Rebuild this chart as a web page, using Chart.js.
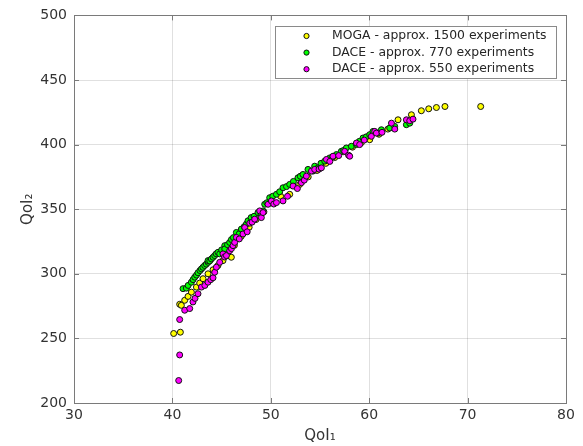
<!DOCTYPE html>
<html>
<head>
<meta charset="utf-8">
<script src="https://cdn.jsdelivr.net/npm/chart.js@4/dist/chart.umd.min.js"></script>
<style>
  body { margin: 0; background: #fff; }
  #wrap { width: 583px; height: 446px; }
</style>
</head>
<body>
<div id="wrap"><canvas id="paretoChart" width="583" height="446"></canvas></div>
<script>
// series labels
const seriesLabels = [
    'MOGA - approx. 1500 experiments',
    'DACE - approx. 770 experiments',
    'DACE - approx. 550 experiments'
];

// MOGA front (yellow)
const mogaX = [40.13, 40.81, 40.74, 40.91, 41.25, 41.59, 41.93, 42.44, 42.77, 43.11,
    43.62, 44.13, 44.63, 45.14, 45.65, 45.99, 46.3, 47.0, 47.8, 48.5,
    49.3, 50.2, 51.0, 51.92, 52.94, 53.8, 54.7, 55.6, 56.5, 57.4,
    58.3, 59.2, 60.05, 61.0, 61.9, 62.93, 64.29, 65.30, 66.05, 66.83,
    67.70, 71.33];
const mogaY = [253.8, 254.8, 276.4, 275.6, 279.5, 282.5, 285.8, 289.7, 292.8, 296.2,
    300.0, 303.1, 306.4, 310.2, 314.1, 312.8, 322, 329, 336, 342,
    348, 355, 360, 361.5, 369.2, 375, 380, 385.5, 390, 394.5,
    398, 401.5, 403.8, 408, 412, 419.2, 423.1, 426.2, 427.7, 428.7,
    429.5, 429.5];

// DACE, 770 experiments (green)
const dace770X = [41.08, 41.42, 41.6, 41.93, 42.1, 42.27, 42.45, 42.60, 42.8, 42.95,
    43.1, 43.28, 43.45, 43.62, 43.62, 43.8, 43.96, 44.13, 44.30, 44.45,
    44.63, 44.81, 45.0, 45.32, 45.32, 45.6, 45.82, 46.0, 46.2, 46.50,
    46.8, 47.01, 47.3, 47.52, 47.68, 48.0, 48.3, 48.70, 49.0, 49.21,
    49.38, 49.6, 49.89, 50.2, 50.57, 50.9, 51.24, 51.6, 51.92, 52.3,
    52.76, 53.0, 53.27, 53.78, 54.29, 54.46, 54.80, 55.1, 55.48, 55.99,
    56.3, 56.67, 57.17, 57.4, 57.68, 58.19, 58.70, 59.0, 59.37, 59.7,
    60.05, 60.39, 60.89, 61.24, 62.08, 62.59, 63.78, 64.12];
const dace770Y = [288.5, 288.9, 291, 293.5, 295.5, 297.4, 299, 300.8, 302.5, 303.8,
    305, 306.4, 307.5, 308.9, 310.2, 310, 311.5, 312.8, 314.1, 315.5,
    316.6, 315.4, 318.5, 321.8, 319.2, 322.5, 324.3, 326.5, 328, 332.0,
    331, 334.6, 336.5, 338.5, 341.0, 343.5, 344.5, 347.4, 346.5, 348.7,
    353.8, 355, 358.9, 360, 361.5, 363.5, 366.6, 367.5, 369.2, 371.5,
    374.3, 375.5, 376.9, 380.8, 379.5, 383.3, 382, 385.5, 387.2, 389.7,
    390.5, 392.3, 394.8, 395.5, 397.4, 398.7, 400, 402.5, 405.1, 406,
    407.7, 410.2, 408.9, 411.5, 412.8, 414.1, 415.4, 416.6];

// DACE, 550 experiments (magenta)
const dace550X = [40.64, 40.74, 40.74, 41.25, 41.76, 42.09, 42.3, 42.60, 42.95, 43.3,
    43.62, 43.9, 44.13, 44.30, 44.47, 44.81, 45.14, 45.3, 45.49, 45.82,
    46.0, 46.16, 46.33, 46.50, 46.8, 47.17, 47.35, 47.6, 47.86, 48.1,
    48.36, 48.87, 49.04, 49.21, 49.72, 50.06, 50.3, 50.57, 51.24, 51.7,
    52.26, 52.7, 53.11, 53.4, 53.62, 54.13, 54.46, 54.9, 55.14, 55.65,
    56.0, 56.32, 56.9, 57.51, 57.9, 58.02, 58.70, 59.03, 59.5, 60.22,
    60.56, 60.73, 61.3, 62.26, 62.6, 63.78, 64.12, 64.45];
const dace550Y = [217.4, 237.2, 264.6, 271.8, 273.1, 278.2, 281, 284.6, 289.7, 291,
    293.5, 295.5, 296.9, 301.2, 305.1, 308.9, 315.4, 313, 314.1, 317.9,
    319.5, 321.8, 324.3, 328.2, 327, 330.8, 335.8, 332.5, 339.2, 340,
    342.3, 348.7, 343.5, 347.4, 353.8, 356.4, 354, 355.1, 356.4, 360,
    367.9, 366, 370.5, 372.5, 375.6, 379.5, 380.8, 381, 382, 388.5,
    387, 391, 391.5, 394.8, 391.8, 391, 401.2, 400, 403.5, 406.4,
    410.2, 408.9, 409.5, 416.6, 412, 419.2, 418.5, 419.7];

// axis ranges / ticks
const xRange = [30, 80];
const yRange = [200, 500];
const xStep = 10;
const yStep = 50;

const colors = ['#ffff00', '#00ff00', '#ff00ff'];
const FONT = "'DejaVu Sans', sans-serif";

function toPoints(xs, ys) {
    return xs.map((x, i) => ({ x: x, y: ys[i] }));
}

// frame box, inward ticks and the boxed legend
const boxPlugin = {
    id: 'boxPlugin',
    afterDraw(chart) {
        const ctx = chart.ctx;
        const a = chart.chartArea;
        const xs = chart.scales.x, ys = chart.scales.y;
        ctx.save();
        ctx.strokeStyle = '#7a7a7a';
        ctx.lineWidth = 1;
        // ticks on all four sides
        ctx.beginPath();
        xs.ticks.forEach(t => {
            const px = Math.round(xs.getPixelForValue(t.value)) + 0.5;
            ctx.moveTo(px, a.bottom); ctx.lineTo(px, a.bottom - 5);
            ctx.moveTo(px, a.top); ctx.lineTo(px, a.top + 5);
        });
        ys.ticks.forEach(t => {
            const py = Math.round(ys.getPixelForValue(t.value)) + 0.5;
            ctx.moveTo(a.left, py); ctx.lineTo(a.left + 5, py);
            ctx.moveTo(a.right, py); ctx.lineTo(a.right - 5, py);
        });
        ctx.stroke();
        ctx.strokeRect(Math.round(a.left) + 0.5, Math.round(a.top) + 0.5,
            Math.round(a.right - a.left), Math.round(a.bottom - a.top));

        // legend
        const lx = 275.5, ly = 26.5, lw = 281, lh = 52;
        ctx.fillStyle = '#ffffff';
        ctx.fillRect(lx, ly, lw, lh);
        ctx.strokeStyle = '#8a8a8a';
        ctx.strokeRect(lx, ly, lw, lh);
        ctx.font = '12.4px ' + FONT;
        ctx.textBaseline = 'middle';
        ctx.textAlign = 'left';
        chart.data.datasets.forEach((ds, i) => {
            const cy = 36 + i * 16.6;
            ctx.beginPath();
            ctx.arc(306.5, cy, 2.6, 0, Math.PI * 2);
            ctx.fillStyle = ds.backgroundColor;
            ctx.fill();
            ctx.strokeStyle = '#111';
            ctx.stroke();
            ctx.fillStyle = '#262626';
            ctx.fillText(ds.label, 332, cy);
        });
        ctx.restore();
    }
};

const ctx = document.getElementById('paretoChart').getContext('2d');
new Chart(ctx, {
    type: 'scatter',
    data: {
        datasets: [
            { label: seriesLabels[0], data: toPoints(mogaX, mogaY), backgroundColor: colors[0], order: 3 },
            { label: seriesLabels[1], data: toPoints(dace770X, dace770Y), backgroundColor: colors[1], order: 2 },
            { label: seriesLabels[2], data: toPoints(dace550X, dace550Y), backgroundColor: colors[2], order: 1 }
        ].map(d => Object.assign(d, {
            borderColor: '#111',
            borderWidth: 1,
            pointRadius: 3,
            pointHoverRadius: 3
        }))
    },
    options: {
        responsive: false,
        animation: false,
        devicePixelRatio: 1,
        layout: { padding: { top: 13, right: 17, left: 0, bottom: 0 } },
        plugins: {
            legend: { display: false },
            tooltip: { enabled: false }
        },
        scales: {
            x: {
                type: 'linear',
                min: xRange[0],
                max: xRange[1],
                ticks: { stepSize: xStep, padding: 4, color: '#333', font: { family: FONT, size: 14 } },
                grid: { color: 'rgba(0,0,0,0.12)', drawTicks: false },
                border: { display: false },
                title: {
                    display: true,
                    text: 'QoI₁',
                    color: '#333',
                    font: { family: FONT, size: 15 },
                    padding: { top: 0, bottom: 1 }
                },
                afterFit(scale) { scale.height = 43; }
            },
            y: {
                min: yRange[0],
                max: yRange[1],
                ticks: { stepSize: yStep, padding: 7, color: '#333', font: { family: FONT, size: 14 } },
                grid: { color: 'rgba(0,0,0,0.12)', drawTicks: false },
                border: { display: false },
                title: {
                    display: true,
                    text: 'QoI₂',
                    color: '#333',
                    font: { family: FONT, size: 15 },
                    padding: { top: 19, bottom: 0 }
                },
                afterFit(scale) { scale.width = 74; }
            }
        }
    },
    plugins: [boxPlugin]
});
</script>
</body>
</html>
